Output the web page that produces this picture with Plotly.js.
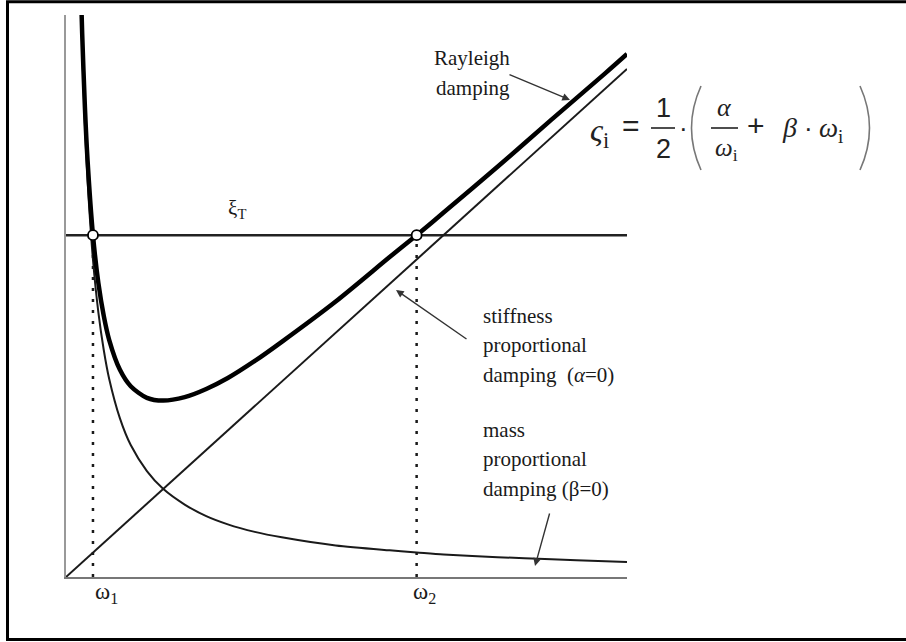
<!DOCTYPE html>
<html>
<head>
<meta charset="utf-8">
<script src="https://cdn.plot.ly/plotly-3.0.1.min.js"></script>
<style>
  html, body { margin: 0; padding: 0; background: #fff; }
  #chart { width: 906px; height: 642px; }
</style>
</head>
<body>
<div id="chart"></div>
<script>
// Circular frequency samples (omega) and damping ratios in %
const omega = [0.28, 0.3, 0.35, 0.4, 0.5, 0.6, 0.7, 0.8, 1.0, 1.2, 1.5, 1.8, 2.2, 2.6, 3.0, 3.5, 4.0, 5.0, 6.0, 6.5, 7.0, 8.0, 9.0, 10.0, 10.4];
const rayleighDamping = [8.49, 7.95, 6.88, 6.09, 5.00, 4.30, 3.82, 3.47, 3.03, 2.79, 2.62, 2.58, 2.63, 2.75, 2.91, 3.16, 3.44, 4.03, 4.68, 5.00, 5.33, 6.00, 6.69, 7.37, 7.65];
const massDamping = [8.29, 7.74, 6.63, 5.80, 4.64, 3.87, 3.32, 2.90, 2.32, 1.93, 1.55, 1.29, 1.06, 0.89, 0.77, 0.66, 0.58, 0.46, 0.39, 0.36, 0.33, 0.29, 0.26, 0.23, 0.22];
const stiffOmega = [0, 10.4];
const stiffDamping = [0, 7.43];
const targetDamping = 5;      // xi_T
const omega1 = 0.5;
const omega2 = 6.5;
const omegaMax = 10.4;
const dampMax = 8.22;

// pixel -> paper helpers for annotations and decorations
const L = 66, R = 627, T = 15, B = 577;
const px = x => (x - L) / (R - L);
const py = y => (B - y) / (B - T);

const ink = '#1a1a1a';
const serif = 'Liberation Serif, Times New Roman, serif';
const sans = 'Liberation Sans, Arial, sans-serif';

const traces = [
  { x: [omega1, omega1], y: [0, targetDamping], mode: 'lines',
    line: { color: ink, width: 2.5, dash: '3px,8px' }, hoverinfo: 'skip' },
  { x: [omega2, omega2], y: [0, targetDamping], mode: 'lines',
    line: { color: ink, width: 2.5, dash: '3px,8px' }, hoverinfo: 'skip' },
  { x: [0, omegaMax], y: [targetDamping, targetDamping], mode: 'lines',
    line: { color: '#222', width: 2.5 } },
  { x: omega, y: massDamping, mode: 'lines',
    line: { color: ink, width: 2, shape: 'spline', smoothing: 0.8 } },
  { x: stiffOmega, y: stiffDamping, mode: 'lines',
    line: { color: ink, width: 2 } },
  { x: omega, y: rayleighDamping, mode: 'lines',
    line: { color: '#000', width: 4.5, shape: 'spline', smoothing: 0.8 } },
  { x: [omega1, omega2], y: [targetDamping, targetDamping], mode: 'markers',
    marker: { size: 10, color: '#fff', line: { color: '#000', width: 1.8 } } }
];

function lab(text, x, y, size, extra) {
  return Object.assign({
    xref: 'paper', yref: 'paper', x: px(x), y: py(y),
    xanchor: 'left', yanchor: 'middle', showarrow: false,
    text: text, font: { family: serif, size: size, color: ink }
  }, extra || {});
}

function arrow(tx, ty, hx, hy) {
  return {
    xref: 'paper', yref: 'paper', x: px(hx), y: py(hy),
    axref: 'pixel', ayref: 'pixel', ax: tx - hx, ay: ty - hy,
    text: '', showarrow: true, arrowhead: 2, arrowsize: 1.1,
    arrowwidth: 1.4, arrowcolor: '#333'
  };
}

const annotations = [
  lab('ξ<sub>T</sub>', 226, 209, 21),
  lab('ω<sub>1</sub>', 93, 593, 23),
  lab('ω<sub>2</sub>', 411, 593, 23),

  lab('Rayleigh', 512, 58, 21, { xanchor: 'right' }),
  lab('damping', 512, 88, 21, { xanchor: 'right' }),
  arrow(508, 74, 570, 100),

  lab('stiffness', 481, 316, 21),
  lab('proportional', 481, 345, 21),
  lab('damping\u00A0\u00A0(<i>α</i>=0)', 481, 375, 21),
  arrow(468, 340, 396, 290),

  lab('mass', 481, 430, 21),
  lab('proportional', 481, 459, 21),
  lab('damping (β=0)', 481, 489, 21),
  arrow(550, 512, 535, 566),

  // damping ratio formula
  lab('<i>ς</i><sub>i</sub>', 588, 132, 32, { font: { family: serif, size: 32, color: '#222' } }),
  lab('=', 631, 125, 30, { xanchor: 'center', font: { family: sans, size: 30, color: '#222' } }),
  lab('1', 663, 108, 27, { xanchor: 'center', font: { family: sans, size: 27, color: '#222' } }),
  lab('2', 663, 149, 27, { xanchor: 'center', font: { family: sans, size: 27, color: '#222' } }),
  lab('·', 683, 128, 26, { xanchor: 'center', font: { family: sans, size: 26, color: '#222' } }),
  lab('<i>α</i>', 724, 108, 26, { xanchor: 'center', font: { family: serif, size: 26, color: '#222' } }),
  lab('<i>ω</i><sub>i</sub>', 726, 149, 25, { xanchor: 'center', font: { family: serif, size: 25, color: '#222' } }),
  lab('+', 756, 126, 30, { xanchor: 'center', font: { family: sans, size: 30, color: '#222' } }),
  lab('<i>β</i>', 789, 128, 28, { xanchor: 'center', font: { family: serif, size: 28, color: '#222' } }),
  lab('·', 808, 128, 26, { xanchor: 'center', font: { family: sans, size: 26, color: '#222' } }),
  lab('<i>ω</i><sub>i</sub>', 831, 130, 27, { xanchor: 'center', font: { family: serif, size: 27, color: '#222' } })
];

const shapes = [
  // outer frame
  { type: 'rect', xref: 'paper', yref: 'paper',
    x0: px(7.5), x1: px(930), y0: py(1.8), y1: py(639.5),
    line: { color: '#000', width: 3 } },
  // fraction bars
  { type: 'line', xref: 'paper', yref: 'paper',
    x0: px(651), x1: px(675), y0: py(128), y1: py(128),
    line: { color: '#222', width: 1.6 } },
  { type: 'line', xref: 'paper', yref: 'paper',
    x0: px(711), x1: px(738), y0: py(128), y1: py(128),
    line: { color: '#222', width: 1.6 } },
  // tall parentheses
  { type: 'path', xref: 'paper', yref: 'paper',
    path: `M ${px(701)} ${py(86)} Q ${px(682)} ${py(128)} ${px(701)} ${py(170)}`,
    line: { color: '#777', width: 1.6 } },
  { type: 'path', xref: 'paper', yref: 'paper',
    path: `M ${px(860)} ${py(86)} Q ${px(879)} ${py(128)} ${px(860)} ${py(170)}`,
    line: { color: '#777', width: 1.6 } }
];

const layout = {
  width: 906, height: 642,
  margin: { l: L, r: 906 - R, t: T, b: 642 - B, pad: 0 },
  paper_bgcolor: '#fff', plot_bgcolor: '#fff',
  showlegend: false,
  xaxis: { range: [0, omegaMax], showgrid: false, zeroline: false,
           showticklabels: false, ticks: '', showline: true,
           linecolor: '#777', linewidth: 2, fixedrange: true },
  yaxis: { range: [0, dampMax], showgrid: false, zeroline: false,
           showticklabels: false, ticks: '', showline: true,
           linecolor: '#999', linewidth: 2, fixedrange: true },
  annotations: annotations,
  shapes: shapes
};

Plotly.newPlot('chart', traces, layout, { displayModeBar: false, staticPlot: true });
</script>
</body>
</html>
